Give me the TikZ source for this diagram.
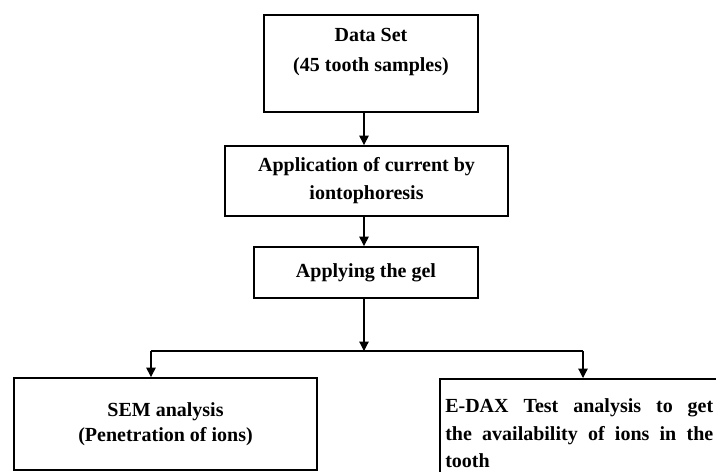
\documentclass[tikz,border=0pt]{standalone}
\usepackage{fontspec}
\setmainfont{Liberation Serif}
\usepackage{tikz}
\usetikzlibrary{arrows.meta}
\tikzset{>={Triangle[length=7pt,width=7pt]}}
\newcommand\boxrule{1.4pt}
\newcommand\linkrule{0.9pt}
\tikzset{
    stage/.style = {draw, line width=\boxrule, font=\fontsize{15}{21}\selectfont\bfseries, align=center, inner sep=0pt},
    flow/.style = {->, line width=\linkrule},
    link/.style = {line width=\linkrule},
}

\begin{document}
\begin{tikzpicture}[x=0.75pt,y=-0.75pt]
    \clip (0,0) rectangle (716,471);
    \useasboundingbox (0,0) rectangle (716,471);
    \node(data)[stage, minimum width=160.5pt, minimum height=72.75pt, font=\fontsize{15}{22.5}\selectfont\bfseries] at (371,63.5)
        {Data Set\\(45 tooth samples)\rule[-20pt]{0pt}{20pt}};
    \node(app)[stage, minimum width=212.25pt, minimum height=52.5pt] at (366.5,181)
        {Application of current by\\iontophoresis};
    \node(gel)[stage, minimum width=168pt, minimum height=38.25pt] at (366,272.5)
        {Applying the gel};
    \node(sem)[stage, minimum width=227.25pt, minimum height=69pt, font=\fontsize{15}{18.75}\selectfont\bfseries] at (165.5,424)
        {SEM analysis\\(Penetration of ions)};
    \node(edax)[stage, anchor=north west, text width=201pt, align=justify, inner xsep=4pt, inner ysep=15pt, font=\fontsize{15}{20.6}\selectfont\bfseries] at (439,378)
        {E-DAX Test analysis to get\linebreak the availability of ions in the\linebreak tooth};
    % branching points
    \coordinate (axis) at (364,0);
    \coordinate (split) at (364,351);
    \coordinate (lt) at (151,351);
    \coordinate (rt) at (583,351);
    \draw[flow] (data.south -| axis) -- (app.north -| axis);
    \draw[flow] (app.south -| axis) -- (gel.north -| axis);
    \draw[flow] (gel.south -| axis) -- (split);
    \draw[link] (lt) -- (rt);
    \draw[flow] (lt) -- (sem.north -| lt);
    \draw[flow] (rt) -- (edax.north -| rt);
\end{tikzpicture}
\end{document}
